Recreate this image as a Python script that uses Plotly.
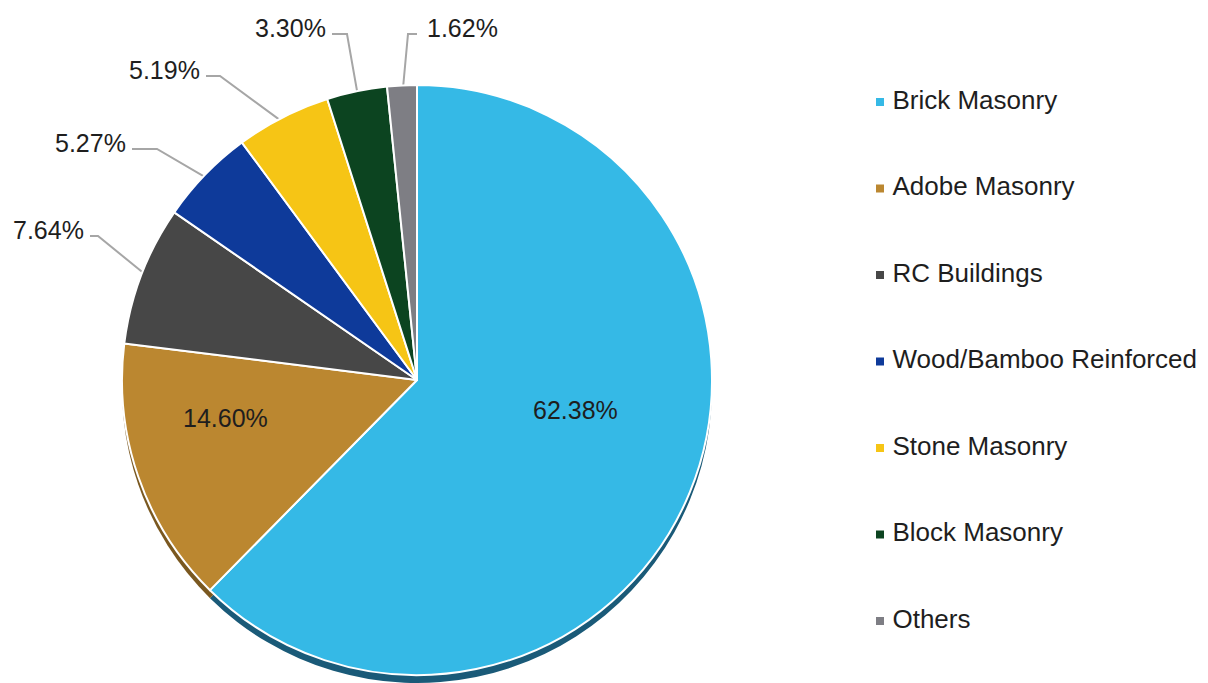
import math
import plotly.graph_objects as go

# ---- data ----
categories = ["Brick Masonry", "Adobe Masonry", "RC Buildings", "Wood/Bamboo Reinforced",
              "Stone Masonry", "Block Masonry", "Others"]
shares = [62.38, 14.60, 7.64, 5.27, 5.19, 3.30, 1.62]

# ---- styles ----
colors = ["#35B9E6", "#BB8730", "#474747", "#0E3A9A", "#F6C515", "#0C4420", "#7E7E84"]
shadow_colors = ["#1A5A78", "#7A5820", "#333333", "#0A2560", "#9A7A10", "#082A14", "#505055"]
W, H = 1208, 683
CX, CY, R = 417, 380, 295
SHADOW = 8
FONT = "Liberation Sans, Arial, sans-serif"
TEXT_COLOR = "#1E1E1E"
LINE_COLOR = "#A6A6A6"

# inside label layout: category index -> (text center x, center y)
inside_labels = {0: (575, 410), 1: (225, 418)}
# outside label layout: category index -> (text x, text y, xanchor, elbow x)
outside_labels = {
    2: (86, 230, "right", 98),
    3: (128, 143, "right", 157),
    4: (202, 70, "right", 220),
    5: (328, 28, "right", 347),
    6: (425, 28, "left", 408),
}


def clamp(v):
    return min(1.0, max(0.0, v))


fig = go.Figure()

# shadow pie (3D-ish bottom edge)
fig.add_trace(go.Pie(
    labels=categories, values=shares, sort=False, direction="clockwise", rotation=0,
    marker=dict(colors=shadow_colors, line=dict(width=0)),
    textinfo="none", hoverinfo="skip", showlegend=False,
    domain=dict(x=[(CX - R) / W, (CX + R) / W],
                y=[clamp(1 - (CY + R + SHADOW) / H), clamp(1 - (CY - R + SHADOW) / H)]),
))

fig.add_trace(go.Pie(
    labels=categories, values=shares, sort=False, direction="clockwise", rotation=0,
    marker=dict(colors=colors, line=dict(color="white", width=2)),
    textinfo="none", showlegend=False,
    domain=dict(x=[(CX - R) / W, (CX + R) / W], y=[clamp(1 - (CY + R) / H), clamp(1 - (CY - R) / H)]),
))

# labels and leader lines, from slice mid-angles
total = sum(shares)
cum = 0.0
annotations = []
for i, v in enumerate(shares):
    mid = (cum + v / 2) / total * 2 * math.pi
    cum += v
    if i in inside_labels:
        tx, ty = inside_labels[i]
        annotations.append(dict(
            x=tx, y=ty, xref="x", yref="y", text=f"{v:.2f}%", showarrow=False,
            xanchor="center", yanchor="middle", font=dict(family=FONT, size=25, color=TEXT_COLOR),
        ))
        continue
    tx, ty, xa, ex = outside_labels[i]
    ly = ty + 6
    px = CX + 0.97 * R * math.sin(mid)
    py = CY - 0.97 * R * math.cos(mid)
    endx = tx + 4 if xa == "right" else tx - 8
    fig.add_trace(go.Scatter(
        x=[px, ex, endx], y=[py, ly, ly], mode="lines",
        line=dict(color=LINE_COLOR, width=2), hoverinfo="skip", showlegend=False,
        xaxis="x", yaxis="y", cliponaxis=False,
    ))
    annotations.append(dict(
        x=tx, y=ty, xref="x", yref="y", text=f"{v:.2f}%", showarrow=False,
        xanchor=xa, yanchor="middle", font=dict(family=FONT, size=25, color=TEXT_COLOR),
    ))

# custom legend
idx = list(range(len(categories)))
fig.add_trace(go.Scatter(
    x=[0] * len(categories), y=idx, mode="markers",
    marker=dict(symbol="square", size=8, color=colors),
    hoverinfo="skip", showlegend=False, xaxis="x2", yaxis="y2", cliponaxis=False,
))
fig.add_trace(go.Scatter(
    x=[0.038] * len(categories), y=idx, mode="text", text=categories,
    textposition="middle right", textfont=dict(family=FONT, size=26, color=TEXT_COLOR),
    hoverinfo="skip", showlegend=False, xaxis="x2", yaxis="y2", cliponaxis=False,
))

fig.update_layout(
    width=W, height=H, margin=dict(l=0, r=0, t=0, b=0),
    paper_bgcolor="white", plot_bgcolor="rgba(0,0,0,0)", showlegend=False,
    xaxis=dict(range=[0, W], domain=[0, 1], visible=False, fixedrange=True),
    yaxis=dict(range=[H, 0], domain=[0, 1], visible=False, fixedrange=True),
    xaxis2=dict(range=[0, 1], domain=[880 / W, 1], visible=False, anchor="y2"),
    yaxis2=dict(range=[6, 0], domain=[1 - 621 / H, 1 - 102 / H], visible=False, anchor="x2"),
    annotations=annotations,
)

fig.write_html("out.html")
